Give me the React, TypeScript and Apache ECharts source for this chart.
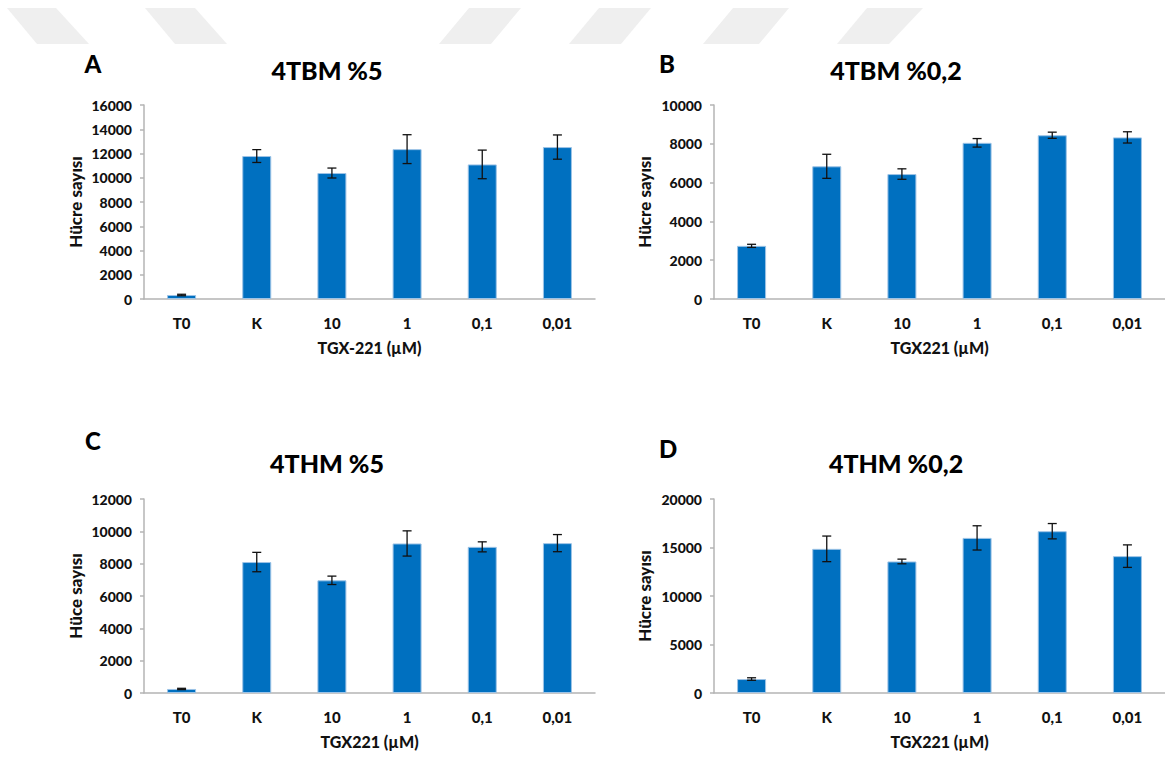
import React, { useEffect, useRef } from "react";
import * as echarts from "echarts";

const categories = ["T0", "K", "10", "1", "0,1", "0,01"];

const valuesA = [330, 11790, 10390, 12360, 11100, 12530];
const errorsA = [60, 530, 410, 1190, 1180, 1000];
const valuesB = [2740, 6840, 6440, 8050, 8440, 8330];
const errorsB = [80, 620, 270, 220, 160, 290];
const valuesC = [250, 8100, 6970, 9250, 9040, 9270];
const errorsC = [40, 600, 260, 780, 310, 530];
const valuesD = [1440, 14860, 13560, 15990, 16680, 14110];
const errorsD = [130, 1320, 240, 1250, 790, 1160];

const panelLetters = ["A", "B", "C", "D"];
const panelTitles = ["4TBM %5", "4TBM %0,2", "4THM %5", "4THM %0,2"];
const yNames = ["Hücre sayısı", "Hücre sayısı", "Hüce sayısı", "Hücre sayısı"];
const xNames = ["TGX-221 (µM)", "TGX221 (µM)", "TGX221 (µM)", "TGX221 (µM)"];
const yMax = [16000, 10000, 12000, 20000];
const yStep = [2000, 2000, 2000, 5000];

const FONT = "Lato, 'Open Sans', sans-serif";

export default function App() {
  const ref = useRef<HTMLDivElement>(null);
  useEffect(() => {
    document.body.style.margin = "0";
    const chart = echarts.init(ref.current!, undefined, { renderer: "svg" });
    const allValues = [valuesA, valuesB, valuesC, valuesD];
    const allErrors = [errorsA, errorsB, errorsC, errorsD];
    const grids = [
      { left: 144, top: 105, width: 451, height: 194 },
      { left: 714, top: 105, width: 451, height: 194 },
      { left: 144, top: 499, width: 451, height: 194 },
      { left: 714, top: 499, width: 451, height: 194 },
    ];
    const letterPos = [
      [93, 63],
      [667, 63],
      [93, 440],
      [668, 448],
    ];
    const titlePos = [
      [327, 70],
      [896, 70],
      [327, 463],
      [896, 463],
    ];
    const axisColor = "#B4B4B4";
    const textColor = "#111";
    const xAxes = grids.map((_, i) => ({
      type: "category",
      gridIndex: i,
      data: categories,
      name: xNames[i],
      nameLocation: "middle",
      nameGap: 40,
      nameTextStyle: { fontFamily: FONT, fontWeight: 900, fontSize: 16, color: textColor },
      axisLine: { lineStyle: { color: axisColor, width: 1.5 } },
      axisTick: { show: false },
      axisLabel: { margin: 16, fontFamily: FONT, fontWeight: 900, fontSize: 15, color: textColor },
    }));
    const yAxes = grids.map((_, i) => ({
      type: "value",
      gridIndex: i,
      min: 0,
      max: yMax[i],
      interval: yStep[i],
      name: yNames[i],
      nameLocation: "middle",
      nameRotate: 90,
      nameGap: i % 2 === 0 ? 60 : 61,
      nameTextStyle: { fontFamily: FONT, fontWeight: 900, fontSize: 17, color: textColor },
      axisLine: { show: true, lineStyle: { color: axisColor, width: 1.5 } },
      axisTick: { show: true, length: 4, lineStyle: { color: axisColor, width: 1.5 } },
      splitLine: { show: false },
      axisLabel: {
        margin: 12,
        fontFamily: FONT,
        fontWeight: 900,
        fontSize: 14,
        color: textColor,
        formatter: (v: number) => String(v),
      },
    }));
    const series: any[] = [];
    grids.forEach((_, i) => {
      series.push({
        type: "bar",
        xAxisIndex: i,
        yAxisIndex: i,
        data: allValues[i],
        barWidth: 29,
        itemStyle: { color: "#0070C0", borderColor: "#9DC3E6", borderWidth: 1 },
      });
      series.push({
        type: "custom",
        xAxisIndex: i,
        yAxisIndex: i,
        data: allValues[i].map((v, k) => [k, v - allErrors[i][k], v + allErrors[i][k]]),
        encode: { x: 0, y: [1, 2] },
        z: 10,
        renderItem: (params: any, api: any) => {
          const x = api.value(0);
          const pHi = api.coord([x, api.value(2)]);
          const pLo = api.coord([x, api.value(1)]);
          const w = 4.5;
          const style = { stroke: "#111", lineWidth: 1.3 };
          return {
            type: "group",
            children: [
              { type: "line", shape: { x1: pHi[0], y1: pHi[1], x2: pLo[0], y2: pLo[1] }, style },
              { type: "line", shape: { x1: pHi[0] - w, y1: pHi[1], x2: pHi[0] + w, y2: pHi[1] }, style },
              { type: "line", shape: { x1: pLo[0] - w, y1: pLo[1], x2: pLo[0] + w, y2: pLo[1] }, style },
            ],
          };
        },
      });
    });
    const wmShapes = [
      [[7, 8], [56, 8], [89, 44], [37, 44]],
      [[145, 8], [195, 8], [227, 44], [175, 44]],
      [[469, 8], [521, 8], [491, 44], [439, 44]],
      [[599, 8], [651, 8], [621, 44], [569, 44]],
      [[733, 8], [789, 8], [759, 44], [703, 44]],
      [[867, 8], [923, 8], [889, 44], [837, 44]],
    ];
    const graphics: any[] = [];
    wmShapes.forEach((pts) =>
      graphics.push({ type: "polygon", shape: { points: pts }, style: { fill: "#EFEFEF" }, silent: true, z: -10 })
    );
    grids.forEach((_, i) => {
      graphics.push({
        type: "text",
        x: letterPos[i][0],
        y: letterPos[i][1],
        style: {
          text: panelLetters[i],
          fontFamily: FONT,
          fontWeight: 900,
          fontSize: 24,
          fill: "#000",
          textAlign: "center",
          textVerticalAlign: "middle",
        },
      });
      graphics.push({
        type: "text",
        x: titlePos[i][0],
        y: titlePos[i][1],
        style: {
          text: panelTitles[i],
          fontFamily: FONT,
          fontWeight: 900,
          fontSize: 25,
          fill: "#000",
          textAlign: "center",
          textVerticalAlign: "middle",
        },
      });
    });
    chart.setOption({
      animation: false,
      backgroundColor: "#ffffff",
      grid: grids,
      xAxis: xAxes,
      yAxis: yAxes,
      series,
      graphic: graphics,
    });
    return () => chart.dispose();
  }, []);
  return (
    <div
      ref={ref}
      style={{ position: "absolute", left: 0, top: 0, width: 1165, height: 758, background: "#fff" }}
    />
  );
}
